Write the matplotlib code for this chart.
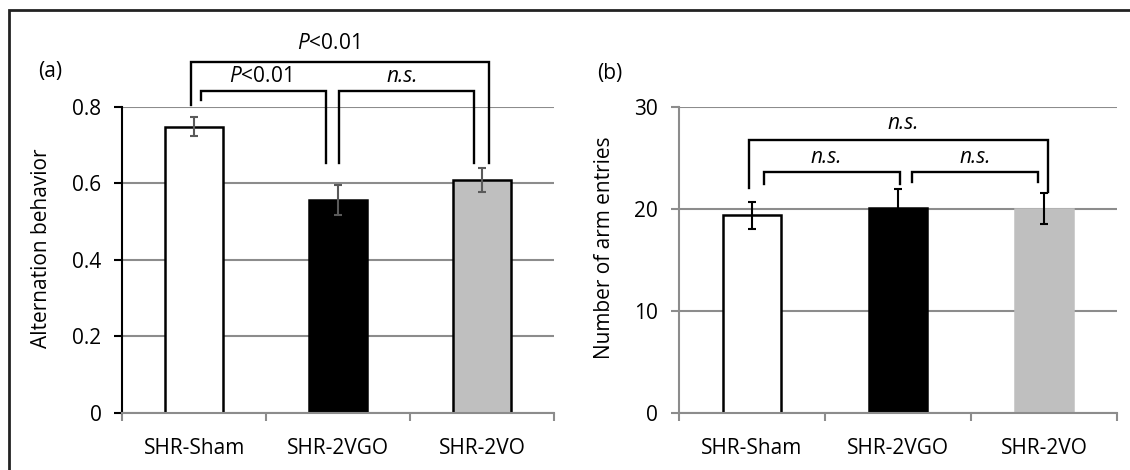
import matplotlib
matplotlib.use('Agg')
import matplotlib.pyplot as plt
from matplotlib.patches import Rectangle
from matplotlib.ticker import FixedLocator

plt.rcParams['font.family'] = ['Open Sans', 'DejaVu Sans']
plt.rcParams['mathtext.fontset'] = 'custom'
plt.rcParams['mathtext.rm'] = 'Open Sans'
plt.rcParams['mathtext.it'] = 'Open Sans:italic'

groups = ['SHR-Sham', 'SHR-2VGO', 'SHR-2VO']
bar_colors = ['white', 'black', '#bfbfbf']

# (a) alternation behavior
alt_mean = [0.747, 0.556, 0.608]
alt_err = [0.025, 0.039, 0.032]
alt_ticks = [0, 0.2, 0.4, 0.6, 0.8]
alt_ticklabels = ['0', '0.2', '0.4', '0.6', '0.8']

# (b) number of arm entries
arm_mean = [19.35, 20.1, 20.0]
arm_err = [1.3, 1.85, 1.5]
arm_ticks = [0, 10, 20, 30]

# brackets: (x_left, x_right, y_top, y_left_end, y_right_end, label, label_x, label_y)
alt_brackets = [
    (-0.024, 2.052, 0.917, 0.804, 0.652, r'$\mathit{P}$<0.01', 0.933, 0.965),
    (0.045, 0.915, 0.841, 0.817, 0.652, r'$\mathit{P}$<0.01', 0.458, 0.878),
    (1.003, 1.947, 0.841, 0.652, 0.652, 'n.s.', 1.444, 0.878),
]
arm_brackets = [
    (-0.02, 2.024, 26.7, 22.0, 21.6, 'n.s.', 1.037, 28.3),
    (0.084, 1.014, 23.6, 22.45, 22.45, 'n.s.', 0.51, 25.05),
    (1.099, 1.958, 23.6, 22.6, 22.6, 'n.s.', 1.528, 25.05),
]

GRID = '#8c8c8c'
FS = 15


def draw_panel(ax, means, errs, ecolor, edges, ticks, ticklabels, ylim, brackets, ylabel, spine_col):
    x = range(len(groups))
    ax.set_axisbelow(True)
    for i in x:
        ax.bar(i, means[i], width=0.4, color=bar_colors[i], edgecolor=edges[i],
               linewidth=1.8, zorder=2)
        ax.errorbar(i, means[i], yerr=errs[i], fmt='none', ecolor=ecolor,
                    elinewidth=1.5, capsize=3.2, capthick=1.5, zorder=3)
    ax.set_xlim(-0.5, 2.5)
    ax.set_ylim(*ylim)
    ax.yaxis.set_major_locator(FixedLocator(ticks))
    ax.set_yticklabels(ticklabels if ticklabels else [str(t) for t in ticks])
    ax.grid(axis='y', color=GRID, linewidth=1.5)
    ax.set_xticks(list(x))
    ax.set_xticklabels(groups)
    ax.xaxis.set_minor_locator(FixedLocator([-0.5, 0.5, 1.5, 2.5]))
    ax.tick_params(axis='x', which='major', length=0, pad=18, labelsize=FS)
    ax.tick_params(axis='x', which='minor', length=6, width=1.5, color=GRID, direction='out')
    ax.tick_params(axis='y', length=6, width=1.5, color=spine_col, pad=9, labelsize=FS)
    for s in ['top', 'right']:
        ax.spines[s].set_visible(False)
    ax.spines['bottom'].set_color(GRID)
    ax.spines['bottom'].set_linewidth(1.5)
    ax.spines['left'].set_color(spine_col)
    ax.spines['left'].set_linewidth(1.5)
    ax.set_ylabel(ylabel, fontsize=FS)
    for xl, xr, yt, yl, yr, lab, tx, ty in brackets:
        ax.plot([xl, xl, xr, xr], [yl, yt, yt, yr], color='black', linewidth=1.7,
                clip_on=False, solid_joinstyle='miter', zorder=4)
        style = 'italic' if lab == 'n.s.' else 'normal'
        ax.text(tx, ty, lab, ha='center', va='center', fontsize=FS, style=style)


fig = plt.figure(figsize=(11.3, 4.7), dpi=100)

ax1 = fig.add_axes([0.1082, 0.1219, 0.382, 0.6515])
draw_panel(ax1, alt_mean, alt_err, '#5a5a5a', ['black', 'black', 'black'],
           alt_ticks, alt_ticklabels, (0, 0.8), alt_brackets, 'Alternation behavior', 'black')
ax1.yaxis.set_label_coords(-0.162, 0.538)

ax2 = fig.add_axes([0.6009, 0.1213, 0.3876, 0.652])
draw_panel(ax2, arm_mean, arm_err, 'black', ['black', 'black', '#bfbfbf'],
           arm_ticks, None, (0, 30), arm_brackets, 'Number of arm entries', GRID)
ax2.yaxis.set_label_coords(-0.146, 0.538)

fig.text(50 / 1130, 1 - 71.7 / 470, '(a)', ha='center', va='center', fontsize=FS)
fig.text(610 / 1130, 1 - 73 / 470, '(b)', ha='center', va='center', fontsize=FS)

# outer frame (right and bottom sides fall outside the image)
fig.add_artist(Rectangle((9 / 1130, -0.05), 1.1, 1 - 10 / 470 + 0.05,
                         transform=fig.transFigure, fill=False,
                         edgecolor='#222222', linewidth=2))

fig.savefig('out.png', dpi=100)
